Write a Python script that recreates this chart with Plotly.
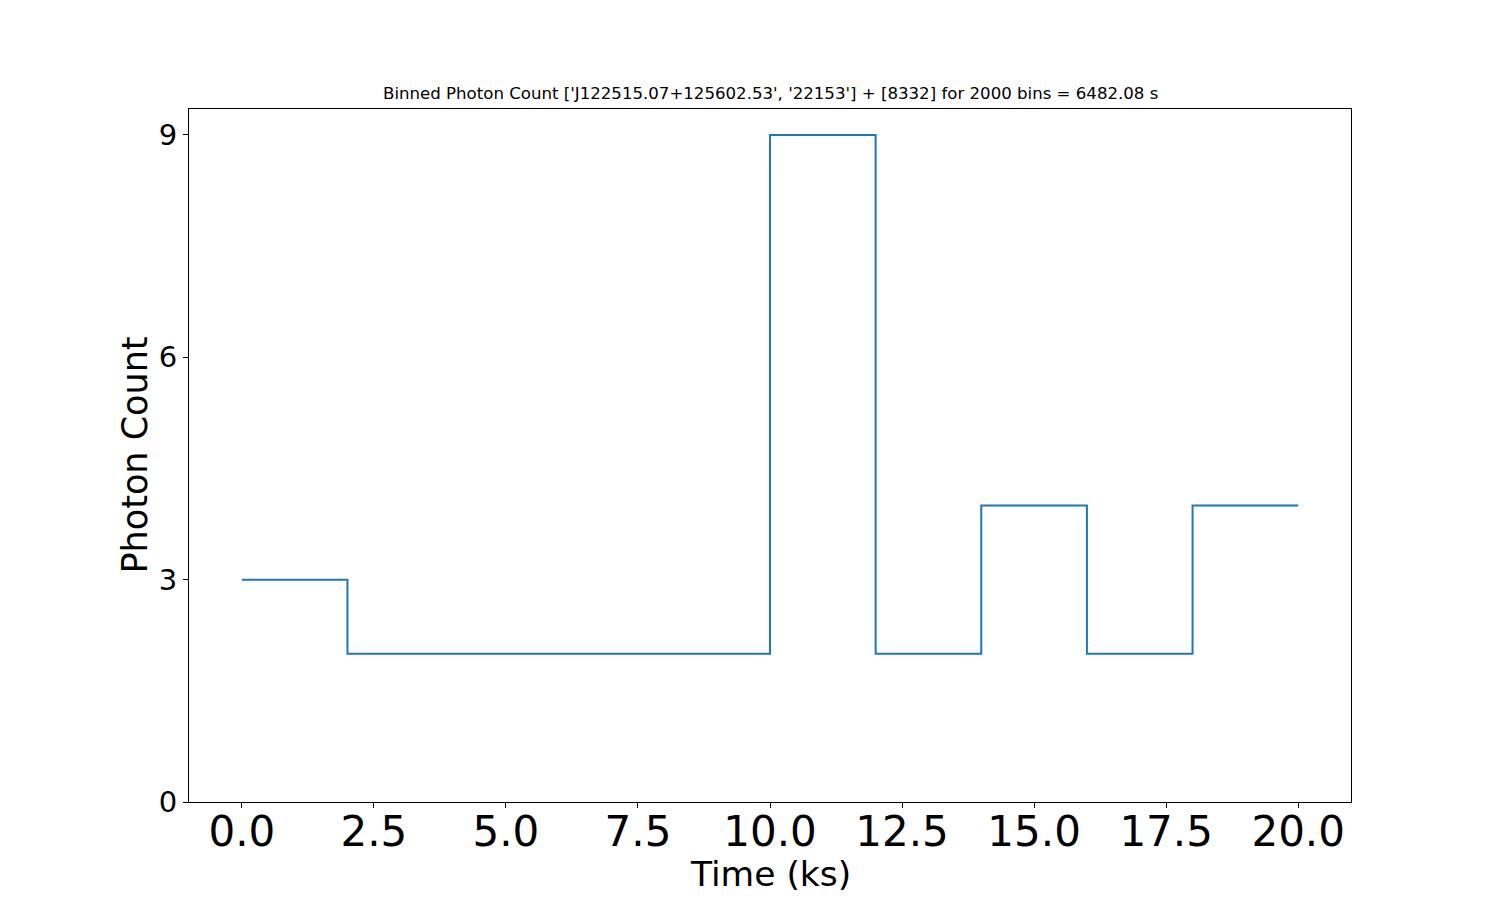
import plotly.graph_objects as go

# bin edges (ks) and photon counts per bin (last value repeated for the step end)
time_ks = [0, 2, 4, 6, 8, 10, 12, 14, 16, 18, 20]
counts = [3, 2, 2, 2, 2, 9, 2, 4, 2, 4, 4]

x_ticks = [0, 2.5, 5, 7.5, 10, 12.5, 15, 17.5, 20]
y_ticks = [0, 3, 6, 9]

title = "Binned Photon Count ['J122515.07+125602.53', '22153'] + [8332] for 2000 bins = 6482.08 s"

fig = go.Figure()
fig.add_trace(go.Scatter(
    x=time_ks, y=counts, mode="lines",
    line=dict(shape="hv", color="#1f77b4", width=2),
    showlegend=False,
))

fig.update_layout(
    width=1500, height=900,
    margin=dict(l=181, r=157, t=101, b=106),
    paper_bgcolor="white", plot_bgcolor="white",
    font=dict(family="DejaVu Sans", color="black"),
)
fig.add_annotation(
    text=title, xref="paper", yref="paper", x=0.5, y=1,
    xanchor="center", yanchor="bottom", yshift=4, showarrow=False,
    font=dict(size=16.6),
)
# axis titles placed as annotations for matplotlib-like spacing
fig.add_annotation(
    text="Time (ks)", xref="paper", yref="paper", x=0.5, y=0,
    xanchor="center", yanchor="middle", yshift=-72, showarrow=False,
    font=dict(size=34.5),
)
fig.add_annotation(
    text="Photon Count", xref="paper", yref="paper", x=0, y=0.5,
    xanchor="center", yanchor="middle", xshift=-55, textangle=-90,
    showarrow=False, font=dict(size=35),
)

fig.update_xaxes(
    range=[-1, 21], tickvals=x_ticks, ticktext=[f"{v:.1f}" for v in x_ticks],
    tickfont=dict(size=42), ticks="outside", ticklen=5, tickcolor="black",
    ticklabelstandoff=-12,
    showline=True, linecolor="black", linewidth=1, mirror=True,
    showgrid=False, zeroline=False,
)
fig.update_yaxes(
    range=[0, 9.35], tickvals=y_ticks,
    tickfont=dict(size=29), ticks="outside", ticklen=5, tickcolor="black",
    showline=True, linecolor="black", linewidth=1, mirror=True,
    showgrid=False, zeroline=False,
)

fig.write_html("out.html")
